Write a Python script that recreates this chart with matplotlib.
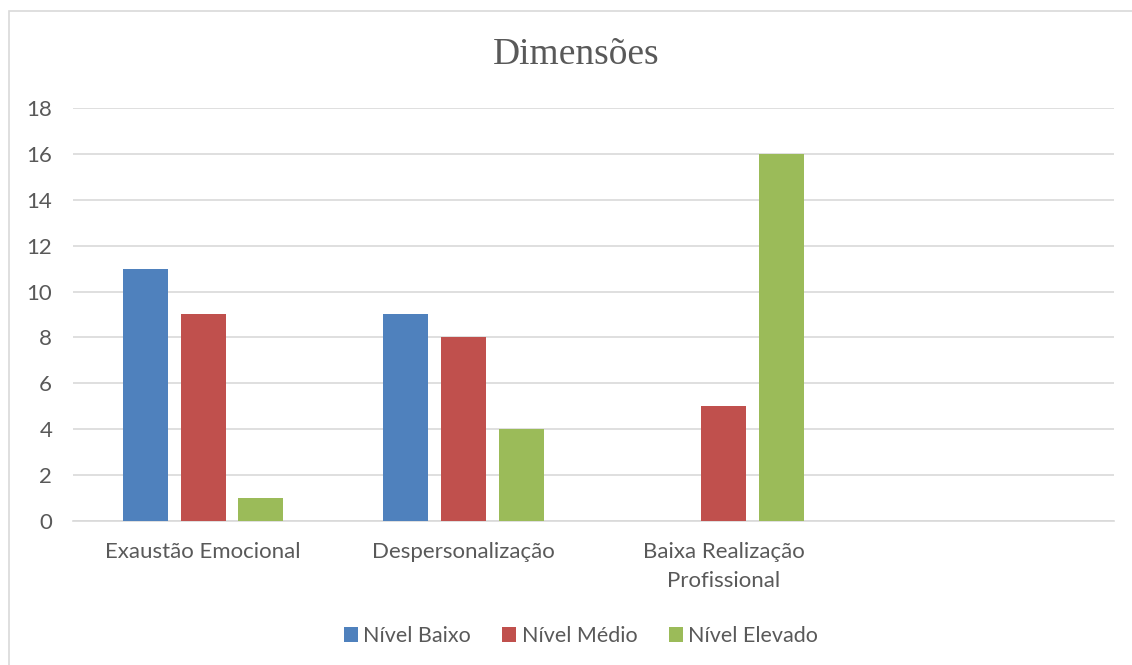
import matplotlib
matplotlib.use("Agg")
import matplotlib.pyplot as plt
import numpy as np
from matplotlib.patches import Rectangle

categories = ["Exaustão Emocional", "Despersonalização", "Baixa Realização\nProfissional", ""]
series_names = ["Nível Baixo", "Nível Médio", "Nível Elevado"]
nivel_baixo = [11, 9, 0, 0]
nivel_medio = [9, 8, 5, 0]
nivel_elevado = [1, 4, 16, 0]
colors = ["#4F81BD", "#C0504D", "#9BBB59"]

txt = "#595959"
plt.rcParams['font.family'] = ['Lato', 'DejaVu Sans']

fig = plt.figure(figsize=(11.32, 6.65), dpi=100)
fig.patches.append(Rectangle((9 / 1132, -0.1), 1.2, 1 - 11 / 665 + 0.1,
                             transform=fig.transFigure, fill=False,
                             edgecolor="#D9D9D9", linewidth=1.2))

ax = fig.add_axes([73 / 1132, 1 - 521 / 665, 1041 / 1132, 413 / 665])
x = np.arange(len(categories))
w = 0.173
off = 0.222
for i, (vals, name) in enumerate(zip([nivel_baixo, nivel_medio, nivel_elevado], series_names)):
    ax.bar(x + (i - 1) * off, vals, width=w, color=colors[i], label=name, zorder=3)

ax.set_xlim(-0.5, len(categories) - 0.5)
ax.set_ylim(0, 18)
ax.set_yticks(range(0, 19, 2))
ax.yaxis.grid(True, color="#D9D9D9", linewidth=1.2, zorder=0)
ax.set_xticks(x)
ax.set_xticklabels(categories, color=txt, fontsize=16, linespacing=1.6)
ax.tick_params(axis="y", colors=txt, labelsize=16, length=0, pad=15)
ax.tick_params(axis="x", length=0, pad=15)
for s in ["top", "right", "left"]:
    ax.spines[s].set_visible(False)
ax.spines["bottom"].set_color("#D9D9D9")
ax.spines["bottom"].set_linewidth(1.2)

fig.text(576 / 1132, 1 - 55 / 665, "Dimensões", ha="center", va="center",
         family="Liberation Serif", fontsize=27, color=txt)

leg = fig.legend(loc="center", bbox_to_anchor=(581 / 1132, 1 - 636 / 665), ncol=3,
                 frameon=False, fontsize=15.5, handlelength=0.65, handleheight=0.65,
                 handletextpad=0.25, columnspacing=1.45)
for t in leg.get_texts():
    t.set_color(txt)

fig.savefig("out.png", dpi=100)
